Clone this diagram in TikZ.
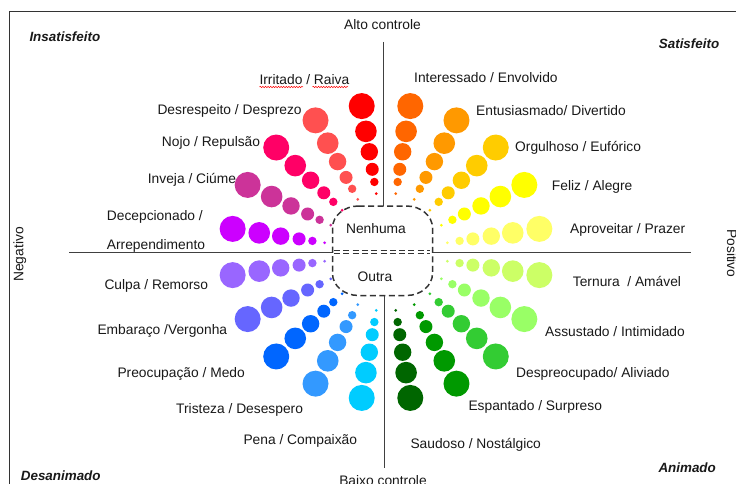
\documentclass[tikz,border=0pt]{standalone}
\usepackage{fontspec}
\setmainfont{Liberation Sans}
\usetikzlibrary{decorations.pathmorphing}
\definecolor{cIrr}{HTML}{FF0000}
\definecolor{cDes}{HTML}{FF5050}
\definecolor{cNoj}{HTML}{FF0066}
\definecolor{cInv}{HTML}{CC3399}
\definecolor{cDec}{HTML}{CC00FF}
\definecolor{cCul}{HTML}{9966FF}
\definecolor{cEmb}{HTML}{6666FF}
\definecolor{cPre}{HTML}{0066FF}
\definecolor{cTri}{HTML}{3399FF}
\definecolor{cPen}{HTML}{00CCFF}
\definecolor{cSau}{HTML}{006600}
\definecolor{cEsp}{HTML}{009900}
\definecolor{cDpr}{HTML}{33CC33}
\definecolor{cAss}{HTML}{99FF66}
\definecolor{cTer}{HTML}{CCFF66}
\definecolor{cApr}{HTML}{FFFF66}
\definecolor{cFel}{HTML}{FFFF00}
\definecolor{cOrg}{HTML}{FFCC00}
\definecolor{cEnt}{HTML}{FF9900}
\definecolor{cInt}{HTML}{FF6600}
\begin{document}
\begin{tikzpicture}[x=1pt,y=-1pt,
  lbl/.style={inner sep=0pt, font=\fontsize{13.8}{15}\selectfont, text=black!90},
  cornerlbl/.style={inner sep=0pt, font=\fontsize{13.4}{15}\selectfont\bfseries\itshape, text=black!90},
  axisline/.style={draw=black!75, line width=0.9pt},
  framel/.style={draw=black!80, line width=1pt},
  boxline/.style={draw=black!80, line width=1.5pt, dash pattern=on 6pt off 3.5pt},
  midline/.style={draw=black!80, line width=1.2pt, dash pattern=on 6pt off 3.3pt},
  spell/.style={draw=red, line width=0.5pt, decorate, decoration={snake, amplitude=0.7pt, segment length=2.6pt}}]
\useasboundingbox (0,0) rectangle (736,484);
\fill[white] (0,0) rectangle (736,484);

% frame
\coordinate (frBL) at (9,484);
\coordinate (frTL) at (9,12);
\coordinate (frTR) at (736,12);
\draw[framel] (frBL) -- (frTL) -- (frTR);

% circles
\foreach \a/\c in {99/cIrr,117/cDes,135/cNoj,153/cInv,171/cDec,
                   189/cCul,207/cEmb,225/cPre,243/cTri,261/cPen,
                   279/cSau,297/cEsp,315/cDpr,333/cAss,351/cTer,
                   9/cApr,27/cFel,45/cOrg,63/cEnt,81/cInt}{
  \foreach \d/\r in {60/1.5,72/4.2,85/6.5,103/8.7,124/10.8,150/13}{
    \fill[\c] ({386+1.035*\d*cos(\a)},{252-0.985*\d*sin(\a)}) circle[radius=\r];
  }
}

% axes
\coordinate (vT1) at (383.3,42);
\coordinate (vT2) at (383.3,206);
\coordinate (vB1) at (384,295.5);
\coordinate (vB2) at (384,468);
\coordinate (hL1) at (69,252);
\coordinate (hL2) at (332.5,252);
\coordinate (hR1) at (432.5,252);
\coordinate (hR2) at (691,252);
\draw[axisline] (vT1) -- (vT2);
\draw[axisline] (vB1) -- (vB2);
\draw[axisline] (hL1) -- (hL2);
\draw[axisline] (hR1) -- (hR2);

% central dashed box
\draw[boxline] (358.5,206) -- (406.5,206)
  arc[start angle=270,end angle=360,x radius=26,y radius=22] -- (432.5,273.5)
  arc[start angle=0,end angle=90,x radius=26,y radius=22] -- (358.5,295.5)
  arc[start angle=90,end angle=180,x radius=26,y radius=22] -- (332.5,228)
  arc[start angle=180,end angle=270,x radius=26,y radius=22] -- cycle;
\coordinate (mA1) at (334,250.2);
\coordinate (mA2) at (430,250.2);
\coordinate (mB1) at (334,253.6);
\coordinate (mB2) at (430,253.6);
\draw[midline] (mA1) -- (mA2);
\draw[midline] (mB1) -- (mB2);
\node[lbl, anchor=base] (nenhuma) at (376,233.3) {Nenhuma};
\node[lbl, anchor=base] (outra) at (375,281.7) {Outra};

% axis labels
\node[lbl, anchor=base] (alto) at (382.5,29.5) {Alto controle};
\node[lbl, anchor=base] (baixo) at (383,485.5) {Baixo controle};
\node[lbl, anchor=base, rotate=90] (neg) at (23.3,254.5) {Negativo};
\node[lbl, anchor=base, rotate=-90] (pos) at (727,253.4) {Positivo};

% corner labels
\node[cornerlbl, anchor=base west] (insat) at (29.3,42) {Insatisfeito};
\node[cornerlbl, anchor=base west] (sat) at (658.7,49) {Satisfeito};
\node[cornerlbl, anchor=base west] (desan) at (20.7,480) {Desanimado};
\node[cornerlbl, anchor=base west] (anim) at (658.3,472.7) {Animado};

% left labels
\node[lbl, anchor=base west] (irr) at (259.3,84.5) {Irritado / Raiva};
\draw[spell] (259.5,87) -- (303,87);
\draw[spell] (312.5,87) -- (348,87);
\node[lbl, anchor=base west] (des) at (157.3,114.5) {Desrespeito / Desprezo};
\node[lbl, anchor=base west] (noj) at (161.7,146.7) {Nojo / Repulsão};
\node[lbl, anchor=base west] (inv) at (147.7,183.3) {Inveja / Ciúme};
\node[lbl, anchor=base west] (dec) at (106.7,220) {Decepcionado /};
\node[lbl, anchor=base west] (arr) at (106.7,249.5) {Arrependimento};
\node[lbl, anchor=base west] (cul) at (104.3,289.3) {Culpa / Remorso};
\node[lbl, anchor=base west] (emb) at (97.3,334) {Embaraço /Vergonha};
\node[lbl, anchor=base west] (pre) at (117.3,377.3) {Preocupação / Medo};
\node[lbl, anchor=base west] (tri) at (176,413) {Tristeza / Desespero};
\node[lbl, anchor=base west] (pen) at (243.3,444) {Pena / Compaixão};

% right labels
\node[lbl, anchor=base west] (int) at (414,82.3) {Interessado / Envolvido};
\node[lbl, anchor=base west] (ent) at (476,115.7) {Entusiasmado/ Divertido};
\node[lbl, anchor=base west] (org) at (515,151.7) {Orgulhoso / Eufórico};
\node[lbl, anchor=base west] (fel) at (551.7,190) {Feliz / Alegre};
\node[lbl, anchor=base west] (apr) at (570,233.3) {Aproveitar / Prazer};
\node[lbl, anchor=base west] (ter) at (572.7,286.7) {Ternura\ \ / Amável};
\node[lbl, anchor=base west] (ass) at (545,336.7) {Assustado / Intimidado};
\node[lbl, anchor=base west] (dpr) at (516,377.7) {Despreocupado/ Aliviado};
\node[lbl, anchor=base west] (esp) at (468.3,410.7) {Espantado / Surpreso};
\node[lbl, anchor=base west] (sau) at (410.3,448.3) {Saudoso / Nostálgico};
\end{tikzpicture}
\end{document}
